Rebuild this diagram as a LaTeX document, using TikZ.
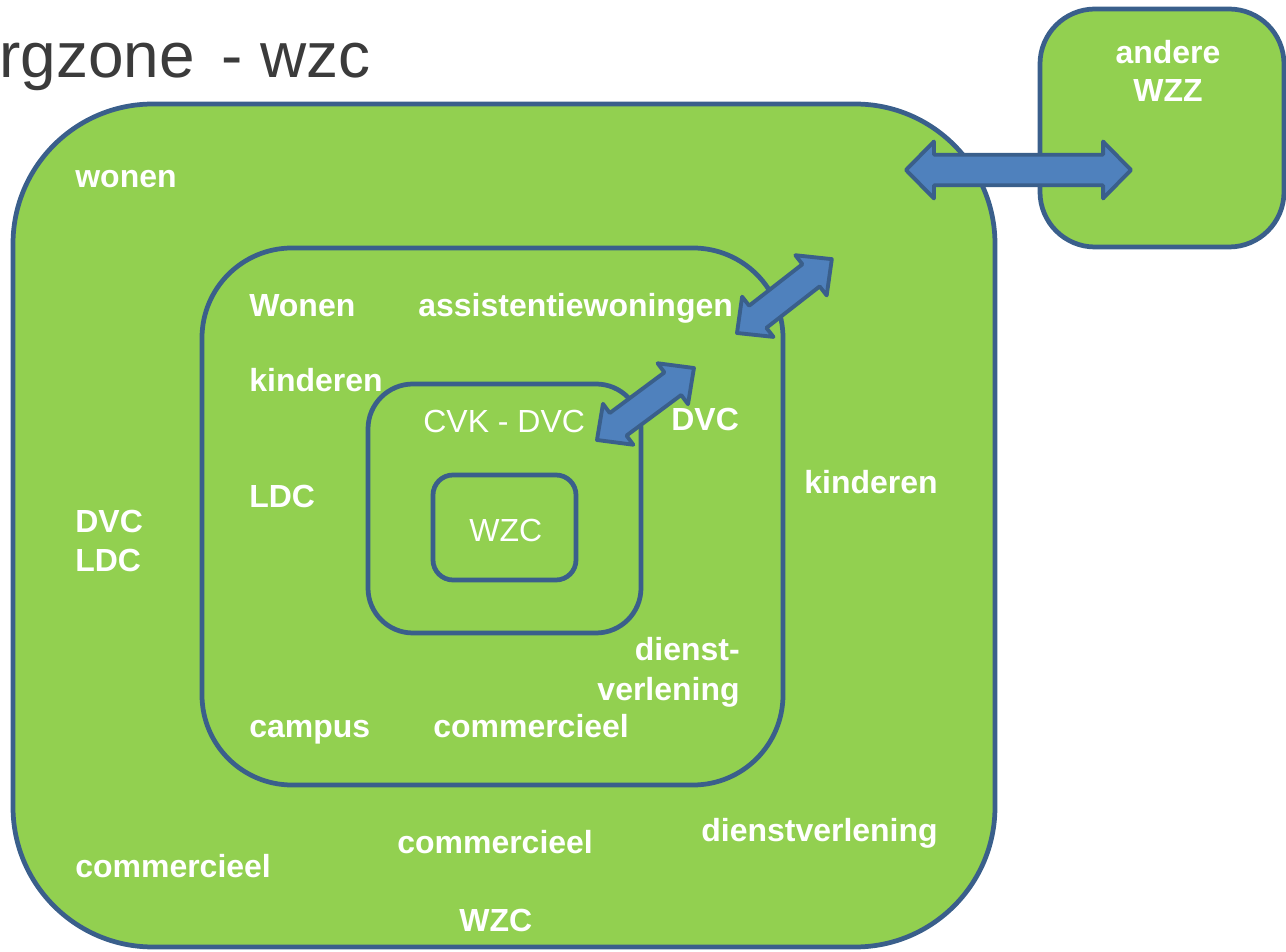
\documentclass[tikz,border=0pt]{standalone}
\usepackage{fontspec}
\setmainfont{Liberation Sans}
\usepackage{tikz}
\usetikzlibrary{calc}
\usepackage{xcolor}

\definecolor{zonegreen}{HTML}{92D050}
\definecolor{zoneline}{HTML}{3A5F8B}
\definecolor{arrowblue}{HTML}{4F81BD}
\definecolor{titlegray}{HTML}{3B3B3B}

\tikzset{
  zone/.style={draw=zoneline, fill=zonegreen, line width=2.7pt},
  lbl/.style={text=white, font=\bfseries\fontsize{18.2}{22}\selectfont, inner sep=0pt, anchor=base west},
  plainlbl/.style={lbl, font=\fontsize{18.2}{22}\selectfont},
  arrowbody/.style={draw=zoneline, fill=arrowblue, line width=2.2pt, line join=round},
}

% block arrow with two heads: from, to, head half width, shaft half width, head length
\newcommand{\dblarrow}[5]{%
  \path[arrowbody] let \p1=($(#2)-(#1)$), \p2=(#1), \n1={atan2(\y1,\x1)}, \n2={veclen(\x1,\y1)} in
    [shift={(\p2)}, rotate=\n1]
    (0pt,0pt) -- (#5,#3) -- (#5,#4) -- (\n2-#5,#4) -- (\n2-#5,#3) -- (\n2,0pt)
    -- (\n2-#5,-#3) -- (\n2-#5,-#4) -- (#5,-#4) -- (#5,-#3) -- cycle;}

\begin{document}
\begin{tikzpicture}[x=0.02cm, y=-0.02cm]
  \useasboundingbox (0,0) rectangle (1286,952);

  % zones
  \draw[zone, rounded corners=2.8cm] (13,104) rectangle (995,947);
  \draw[zone, rounded corners=1.1cm] (1040,9) rectangle (1284,247);
  \draw[zone, rounded corners=1.8cm] (202,248) rectangle (783,785);
  \draw[zone, rounded corners=0.9cm] (368,384) rectangle (641,633);
  \draw[zone, rounded corners=0.4cm] (433,475) rectangle (576,580);

  \node[font=\fontsize{36.4}{40}\selectfont, text=titlegray, inner sep=0pt, anchor=base west] (title) at (-1,78) {rgzone\hspace{0.42em}- wzc};

  % outer zone
  \node[lbl] (wonen) at (75,188) {wonen};
  \node[lbl] (dvcout) at (75,533) {DVC};
  \node[lbl] (ldcout) at (75,572) {LDC};
  \node[lbl] (kindout) at (804,494) {kinderen};
  \node[lbl] (dienstout) at (701,842) {dienstverlening};
  \node[lbl] (commmid) at (397,854) {commercieel};
  \node[lbl] (commout) at (75,878) {commercieel};
  \node[lbl] (wzcout) at (459,931) {WZC};

  % campus
  \node[lbl] (Wonen) at (249,317) {Wonen};
  \node[lbl] (assist) at (418,317) {assistentiewoningen};
  \node[lbl] (kindin) at (249,392) {kinderen};
  \node[lbl] (dvcin) at (671,431) {DVC};
  \node[lbl] (ldcin) at (249,508) {LDC};
  \node[lbl, anchor=base east] (dienst) at (740,661) {dienst-};
  \node[lbl, anchor=base east] (verlening) at (740,701) {verlening};
  \node[lbl] (campus) at (249,738) {campus};
  \node[lbl] (commin) at (433,738) {commercieel};

  \node[plainlbl] (cvk) at (423,433) {CVK - DVC};
  \node[plainlbl] (wzc) at (469,542) {WZC};

  \node[lbl, anchor=base] (andere) at (1168,64) {andere};
  \node[lbl, anchor=base] (wzz) at (1168,102) {WZZ};

  % arrows
  \coordinate (extL) at (906,170);
  \coordinate (extR) at (1131,170);
  \coordinate (midA) at (737,333);
  \coordinate (midB) at (832,259);
  \coordinate (inA) at (597,440);
  \coordinate (inB) at (694,368);
  \dblarrow{extL}{extR}{16.2pt}{8.7pt}{15.9pt}
  \dblarrow{midA}{midB}{14.5pt}{8pt}{15pt}
  \dblarrow{inA}{inB}{14.5pt}{8pt}{15pt}
\end{tikzpicture}
\end{document}
